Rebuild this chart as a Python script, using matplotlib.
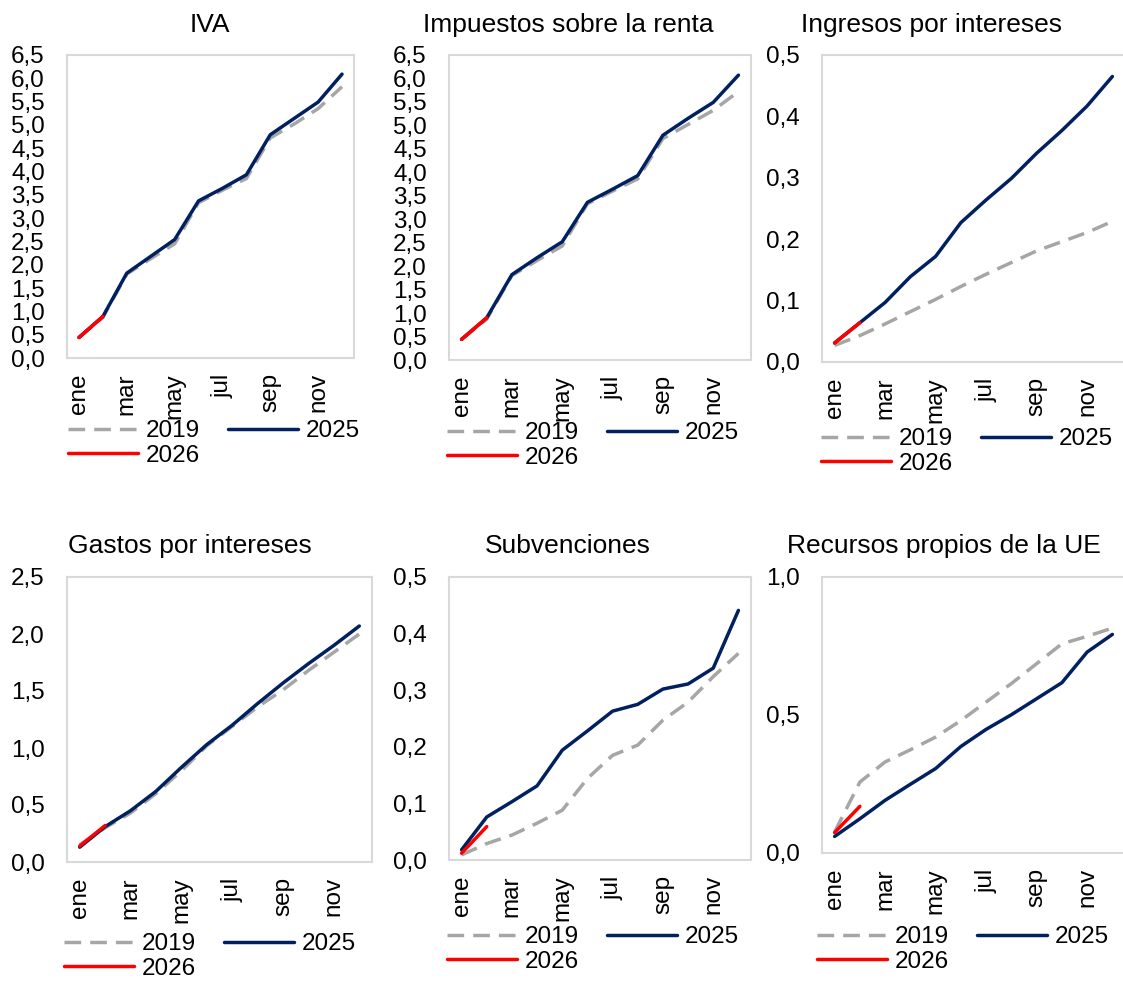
import matplotlib
matplotlib.use("Agg")
import matplotlib.pyplot as plt
from matplotlib.ticker import FuncFormatter

plt.rcParams['font.family'] = ['Liberation Sans', 'DejaVu Sans']

months = ["ene", "feb", "mar", "abr", "may", "jun", "jul", "ago", "sep", "oct", "nov", "dic"]
tick_months = ["ene", "mar", "may", "jul", "sep", "nov"]

titles = ["IVA", "Impuestos sobre la renta", "Ingresos por intereses",
          "Gastos por intereses", "Subvenciones", "Recursos propios de la UE"]

iva_2019 = [0.44, 0.87, 1.80, 2.13, 2.45, 3.33, 3.60, 3.85, 4.72, 5.02, 5.35, 5.82]
iva_2025 = [0.44, 0.89, 1.82, 2.18, 2.54, 3.37, 3.64, 3.93, 4.79, 5.14, 5.49, 6.09]
iva_2026 = [0.44, 0.89]

renta_2019 = [0.44, 0.87, 1.80, 2.12, 2.43, 3.33, 3.60, 3.86, 4.72, 5.02, 5.32, 5.72]
renta_2025 = [0.44, 0.90, 1.82, 2.18, 2.52, 3.36, 3.64, 3.93, 4.79, 5.15, 5.49, 6.07]
renta_2026 = [0.44, 0.90]

ingint_2019 = [0.027, 0.043, 0.062, 0.082, 0.102, 0.123, 0.143, 0.162, 0.181, 0.196, 0.211, 0.229]
ingint_2025 = [0.031, 0.064, 0.097, 0.139, 0.172, 0.227, 0.264, 0.299, 0.340, 0.377, 0.417, 0.465]
ingint_2026 = [0.031, 0.064]

gasint_2019 = [0.15, 0.30, 0.43, 0.60, 0.80, 1.02, 1.19, 1.36, 1.51, 1.68, 1.84, 2.00]
gasint_2025 = [0.13, 0.31, 0.45, 0.62, 0.83, 1.03, 1.20, 1.39, 1.57, 1.74, 1.90, 2.07]
gasint_2026 = [0.14, 0.32]

subv_2019 = [0.009, 0.029, 0.044, 0.065, 0.088, 0.144, 0.185, 0.203, 0.247, 0.279, 0.324, 0.365]
subv_2025 = [0.018, 0.076, 0.103, 0.131, 0.194, 0.228, 0.263, 0.275, 0.302, 0.311, 0.339, 0.441]
subv_2026 = [0.012, 0.059]

ue_2019 = [0.076, 0.257, 0.330, 0.374, 0.420, 0.480, 0.547, 0.614, 0.686, 0.758, 0.785, 0.815]
ue_2025 = [0.060, 0.124, 0.191, 0.249, 0.306, 0.386, 0.448, 0.501, 0.559, 0.617, 0.728, 0.792]
ue_2026 = [0.074, 0.169]

series = [
    (iva_2019, iva_2025, iva_2026),
    (renta_2019, renta_2025, renta_2026),
    (ingint_2019, ingint_2025, ingint_2026),
    (gasint_2019, gasint_2025, gasint_2026),
    (subv_2019, subv_2025, subv_2026),
    (ue_2019, ue_2025, ue_2026),
]

y_max = [6.5, 6.5, 0.5, 2.5, 0.5, 1.0]
y_step = [0.5, 0.5, 0.1, 0.5, 0.1, 0.5]

W, H = 1123, 983
fig = plt.figure(figsize=(W / 100, H / 100), dpi=100)

# axes boxes in pixels: left, right, top, bottom
boxes = [
    (67, 354, 55, 358),
    (449, 751, 55, 360),
    (822, 1125, 55, 362),
    (67, 372, 577, 862),
    (449, 751, 577, 860),
    (822, 1125, 577, 853),
]
title_pos = [(210, 32), (568, 32), (931, 32), (190, 553), (568, 553), (944, 553)]
legend_pos = [(68, 420), (447, 422), (821, 428), (64, 933), (447, 926), (817, 926)]

C19 = "#A6A6A6"
C25 = "#002060"
C26 = "#FF0000"

FS = 17.5

fmt = FuncFormatter(lambda v, p: f"{v:.1f}".replace(".", ","))

for i, (l, r, t, b) in enumerate(boxes):
    ax = fig.add_axes([l / W, 1 - b / H, (r - l) / W, (b - t) / H])
    s19, s25, s26 = series[i]
    x = list(range(len(months)))
    h19, = ax.plot(x[:len(s19)], s19, color=C19, lw=2.5, ls=(0, (4.8, 2.6)), label="2019",
                   dash_capstyle='butt')
    h25, = ax.plot(x[:len(s25)], s25, color=C25, lw=2.5, label="2025", solid_capstyle='round')
    h26, = ax.plot(x[:len(s26)], s26, color=C26, lw=2.5, label="2026", solid_capstyle='round')
    ax.set_xlim(-0.5, 11.5)
    ax.set_ylim(0, y_max[i])
    n = int(round(y_max[i] / y_step[i]))
    ax.set_yticks([k * y_step[i] for k in range(n + 1)])
    ax.yaxis.set_major_formatter(fmt)
    ax.set_xticks([months.index(m) for m in tick_months])
    ax.set_xticklabels(tick_months, rotation=90, va='top', ha='center')
    ax.tick_params(axis='both', length=0, labelsize=FS)
    ax.tick_params(axis='y', pad=16)
    ax.tick_params(axis='x', pad=11)
    for sp in ax.spines.values():
        sp.set_color("#D9D9D9")
        sp.set_linewidth(1.5)
    fig.text(title_pos[i][0] / W, 1 - title_pos[i][1] / H, titles[i], ha='center',
             va='baseline', fontsize=19)
    lx, ly = legend_pos[i]
    fig.legend([h19, h26, h25], ["2019", "2026", "2025"], loc='upper left',
               bbox_to_anchor=(lx / W, 1 - ly / H), bbox_transform=fig.transFigure,
               ncol=2, frameon=False, fontsize=FS, handlelength=2.9, handletextpad=0.3,
               columnspacing=1.15, labelspacing=0.12, borderpad=0, borderaxespad=0)

fig.savefig("out.png", dpi=100)
